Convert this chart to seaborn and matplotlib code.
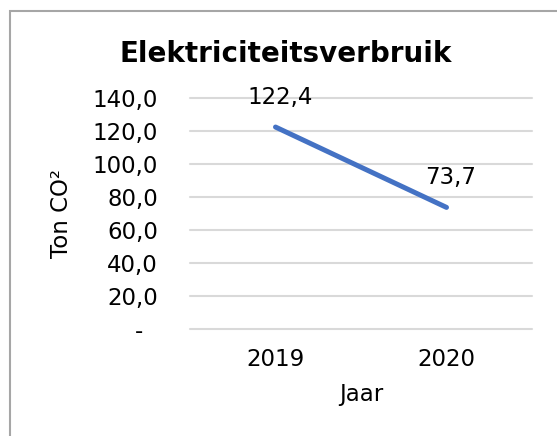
import matplotlib
matplotlib.use("Agg")
import matplotlib.pyplot as plt
import seaborn as sns
import pandas as pd
from matplotlib.patches import Rectangle

years = ["2019", "2020"]
values = [122.4, 73.7]
value_labels = ["122,4", "73,7"]
y_ticks = [0, 20, 40, 60, 80, 100, 120, 140]
y_tick_labels = ["-  ", "20,0", "40,0", "60,0", "80,0", "100,0", "120,0", "140,0"]
title = "Elektriciteitsverbruik"
x_title = "Jaar"
y_title = "Ton CO²"

sns.set_theme(style="white")
plt.rcParams["font.family"] = ["DejaVu Sans"]

W, H = 557, 436
fig = plt.figure(figsize=(W / 100, H / 100), dpi=100)
L, R, T, B = 190, 532, 98, 329
ax = fig.add_axes([L / W, 1 - B / H, (R - L) / W, (B - T) / H])

df = pd.DataFrame({"Jaar": years, "Ton": values})
sns.lineplot(data=df, x="Jaar", y="Ton", ax=ax, color="#4472C4", linewidth=3.6,
             solid_capstyle="round")

ax.set_xlim(-0.5, 1.5)
ax.set_ylim(0, 140)
ax.set_yticks(y_ticks)
ax.set_yticklabels(y_tick_labels)
ax.yaxis.grid(True, color="#D9D9D9", linewidth=1.5)
for gl in ax.get_ygridlines():
    gl.set_clip_on(False)
ax.xaxis.grid(False)
ax.set_axisbelow(True)
for s in ax.spines.values():
    s.set_visible(False)
ax.tick_params(axis="y", length=0, pad=23, labelsize=16.5, labelcolor="black")
ax.tick_params(axis="x", length=0, pad=14, labelsize=16.5, labelcolor="black")
ax.set_xlabel(x_title, fontsize=16.5, labelpad=8, color="black")
ax.set_ylabel(y_title, fontsize=16.5, labelpad=14, color="black")

for i, (v, lab) in enumerate(zip(values, value_labels)):
    ax.annotate(lab, xy=(i, v), xytext=(3, 13), textcoords="offset points",
                ha="center", va="bottom", fontsize=16.5, color="black")

fig.text(286 / W, 1 - 54 / H, title, ha="center", va="center",
         fontsize=20, fontweight="bold", color="black")

fig.patches.append(Rectangle((10 / W, -0.05), 1.1, 1 - 11 / H + 0.05,
                             transform=fig.transFigure, fill=False,
                             edgecolor="#A6A6A6", linewidth=1.5))

fig.savefig("out.png", dpi=100)
